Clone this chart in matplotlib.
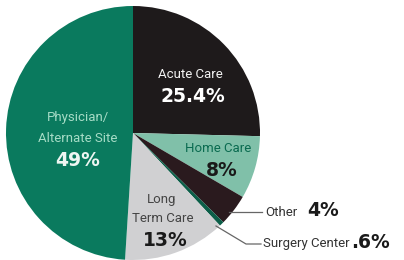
import matplotlib
matplotlib.use("Agg")
import matplotlib.pyplot as plt

# slices, clockwise from 12 o'clock
labels = ["Acute Care", "Home Care", "Other", "Surgery Center", "Long Term Care", "Physician/Alternate Site"]
shares = [25.4, 8, 4, 0.6, 13, 49]
pct_text = ["25.4%", "8%", "4%", ".6%", "13%", "49%"]
colors = ["#1e1a1b", "#80c0a9", "#2a1a1e", "#0b5e48", "#d0d0d2", "#0a7a5e"]

W, H = 404, 260
fig = plt.figure(figsize=(W / 100, H / 100), dpi=100)
ax = fig.add_axes([0, 0, 1, 1])

cx, cy, r = 133, H - 133, 127
ax.pie(shares, colors=colors, startangle=90, counterclock=False,
       center=(cx, cy), radius=r, wedgeprops=dict(linewidth=0))
ax.set_xlim(0, W)
ax.set_ylim(0, H)
ax.set_aspect("equal")
ax.axis("off")

narrow = dict(family=["Roboto", "DejaVu Sans"], fontsize=9.5)
boldf = dict(family=["DejaVu Sans"], weight="bold", fontsize=13.5)

def t(x, y, s, **kw):
    ax.text(x, H - y, s, va="center", **kw)

# Physician / Alternate Site
t(78, 118, "Physician/", ha="center", color="#a6dcc6", **narrow)
t(78, 139, "Alternate Site", ha="center", color="#a6dcc6", **narrow)
t(78, 161, pct_text[5], ha="center", color="#eef6f2", **boldf)

# Acute Care
t(190, 74, labels[0], ha="center", color="#f2f2f2", **narrow)
t(193, 97, pct_text[0], ha="center", color="white", **boldf)

# Home Care
t(218, 149, labels[1], ha="center", color="#0a6b50", **narrow)
t(222, 170, pct_text[1], ha="center", color="#1a1a1a", **boldf)

# Long Term Care
t(162, 199, "Long", ha="center", color="#444444", **narrow)
t(163, 218, "Term Care", ha="center", color="#444444", **narrow)
t(165, 240, pct_text[4], ha="center", color="#1a1a1a", **boldf)

# Other leader
ax.plot([229, 262], [H - 212, H - 212], color="#666666", lw=0.9)
t(265, 212, labels[2], ha="left", color="#333333", **narrow)
t(307, 211, pct_text[2], ha="left", color="#1a1a1a", **boldf)

# Surgery Center leader
ax.plot([216, 246, 261], [H - 226, H - 244, H - 244], color="#666666", lw=0.9)
t(263, 244, labels[3], ha="left", color="#333333", **narrow)
t(351, 243, pct_text[3], ha="left", color="#1a1a1a", **boldf)

fig.savefig("out.png", dpi=100)
